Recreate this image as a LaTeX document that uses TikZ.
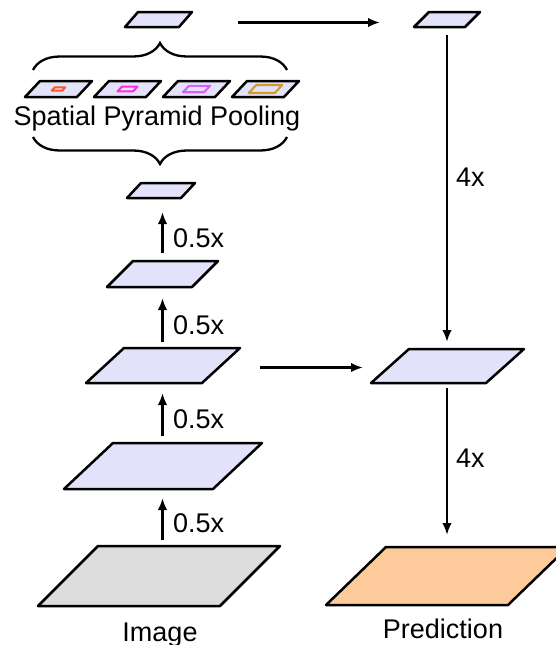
\documentclass[tikz,border=0pt]{standalone}
\usepackage{fontspec}
\setmainfont{Liberation Sans}
\usetikzlibrary{arrows.meta,decorations.pathreplacing,calc}
\definecolor{lav}{HTML}{E2E2FA}
\definecolor{imggray}{HTML}{DCDCDC}
\definecolor{predor}{HTML}{FDCB9B}
\definecolor{cA}{HTML}{FF5A1E}
\definecolor{cB}{HTML}{FF2BE6}
\definecolor{cC}{HTML}{DA5EFF}
\definecolor{cD}{HTML}{D09A2C}
% name, cx, cy, total width, shear, height, path style
\newcommand\plgm[7]{%
  \node[pbox, minimum width=#4pt, minimum height=#6pt] (#1) at (#2,#3) {};
  \path[#7] (#1.south west) -- ([xshift=-#5pt]#1.south east) -- (#1.north east) -- ([xshift=#5pt]#1.north west) -- cycle;}
\begin{document}
\begin{tikzpicture}[x=1pt,y=-1pt,
  pbox/.style={rectangle, inner sep=0pt, outer sep=0pt, draw=none},
  plg/.style={draw=black, line width=2.5pt, line join=round, fill=lav},
  inbox/.style={line width=2.1pt, line join=round},
  arr/.style={line width=2.3pt, -{Latex[length=12pt,width=9.5pt]}},
  lbl/.style={font=\fontsize{27}{32}\selectfont, inner sep=0pt},
  brc/.style={line width=2.3pt, decorate, decoration={brace, amplitude=27pt}}]
\useasboundingbox (0,0) rectangle (555,645);
% top row
\plgm{A}{158.5}{19.5}{67}{13}{15}{plg}
\plgm{R}{447}{19.5}{66}{15}{15}{plg}
% spatial pyramid pooling row
\plgm{S1}{58.5}{89}{67}{15}{16}{plg}
\plgm{S2}{127.5}{89}{67}{15}{16}{plg}
\plgm{S3}{196.5}{89}{67}{15}{16}{plg}
\plgm{S4}{265.5}{89}{67}{15}{16}{plg}
\plgm{S1in}{58.5}{89}{13.4}{3}{3.2}{inbox, draw=cA}
\plgm{S2in}{127.5}{89}{20}{4.5}{4.8}{inbox, draw=cB}
\plgm{S3in}{196.5}{89}{27}{6}{6.4}{inbox, draw=cC}
\plgm{S4in}{265.5}{89}{33.5}{7.5}{8}{inbox, draw=cD}
\node[lbl, anchor=base] (spp) at (157,125) {Spatial Pyramid Pooling};
\coordinate (braceTL) at (33,70);
\coordinate (braceTR) at (287,70);
\coordinate (braceBL) at (33,137);
\coordinate (braceBR) at (287,137);
\draw[brc] (braceTL) -- (braceTR);
\draw[brc] (braceBR) -- (braceBL);
% left column
\plgm{B}{161}{190.5}{68}{14}{15}{plg}
\plgm{C}{162.5}{274}{111}{26}{26}{plg}
\plgm{D}{163}{365.5}{154}{38}{35}{plg}
\plgm{H}{163}{466}{198}{49}{46}{plg}
\plgm{G}{159}{576}{242}{60}{60}{plg, fill=imggray}
% right column
\plgm{E}{447.5}{366}{153}{38}{34}{plg}
\plgm{F}{447}{576}{242}{60}{58}{plg, fill=predor}
% texts
\node[lbl, anchor=base] (img) at (160,641) {Image};
\node[lbl, anchor=base] (pred) at (443,638) {Prediction};
% connectors
\draw[arr, shorten <=46pt, shorten >=34pt] ([yshift=-3pt]A.east) -- ([yshift=-3pt]R.west);
\draw[arr, shorten <=8pt, shorten >=7pt] (R.south) -- (R.south |- E.north);
\draw[arr, shorten <=20pt, shorten >=8pt] ([yshift=-2pt]D.east) -- ([yshift=-2pt]D.east -| E.west);
\draw[arr, shorten <=5pt, shorten >=12pt] (R.south |- E.south) -- (R.south |- F.north);
\draw[arr, shorten <=8pt, shorten >=14pt] (C.north) -- (C.north |- B.south);
\draw[arr, shorten <=6pt, shorten >=11pt] (C.north |- D.north) -- (C.north |- C.south);
\draw[arr, shorten <=7pt, shorten >=10pt] (C.north |- H.north) -- (C.north |- D.south);
\draw[arr, shorten <=6pt, shorten >=9pt] (C.north |- G.north) -- (C.north |- H.south);
% connector labels
\node[lbl, anchor=base west] (l1) at (173,247) {0.5x};
\node[lbl, anchor=base west] (l2) at (173,334) {0.5x};
\node[lbl, anchor=base west] (l3) at (173,428) {0.5x};
\node[lbl, anchor=base west] (l4) at (173,532) {0.5x};
\node[lbl, anchor=base west] (l5) at (456,186) {4x};
\node[lbl, anchor=base west] (l6) at (456,467) {4x};
\end{tikzpicture}
\end{document}
